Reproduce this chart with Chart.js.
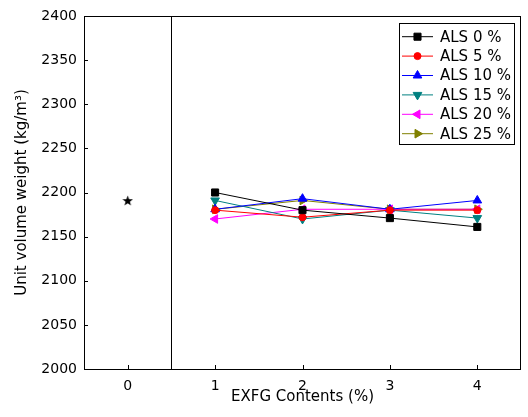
<!DOCTYPE html>
<html>
<head>
<meta charset="utf-8">
<script src="https://cdn.jsdelivr.net/npm/chart.js@4"></script>
<style>
  html, body { margin: 0; padding: 0; background: #fff; }
  #wrap { width: 528px; height: 417px; }
</style>
</head>
<body>
<div id="wrap"><canvas id="weightChart" width="528" height="417"></canvas></div>
<script>
// EXFG contents (%) on the x axis
const exfg = [1, 2, 3, 4];
const xTicks = [0, 1, 2, 3, 4];
const yTicks = [2000, 2050, 2100, 2150, 2200, 2250, 2300, 2350, 2400];

// reference mix (0 %), drawn as a star
const plainX = 0;
const plainWeight = 2191;

// unit volume weight per ALS replacement level
const labels = ['ALS 0 %', 'ALS 5 %', 'ALS 10 %', 'ALS 15 %', 'ALS 20 %', 'ALS 25 %'];
const als0 = [2200, 2180, 2171, 2161];
const als5 = [2180, 2172, 2180, 2180];
const als10 = [2181, 2193, 2181, 2191];
const als15 = [2191, 2170, 2180, 2171];
const als20 = [2170, 2181, 2181, 2181];
const als25 = [2181, 2191, 2181, 2181];

const dividerX = 0.5;

const colors = ['#000000', '#ff0000', '#0000ff', '#008080', '#ff00ff', '#808000'];
const markers = ['rect', 'circle', 'triangle', 'triangle', 'triangle', 'triangle'];
const rotations = [0, 0, 0, 180, 270, 90];
const radii = [5, 3.5, 5, 5, 5, 5];

function makeStar(size) {
    const c = document.createElement('canvas');
    c.width = size; c.height = size;
    const g = c.getContext('2d');
    const cx = size / 2, cy = size / 2 + 0.5, ro = size / 2, ri = ro * 0.42;
    g.beginPath();
    for (let i = 0; i < 10; i++) {
        const r = i % 2 ? ri : ro;
        const a = -Math.PI / 2 + i * Math.PI / 5;
        g.lineTo(cx + r * Math.cos(a), cy + r * Math.sin(a));
    }
    g.closePath();
    g.fillStyle = '#000';
    g.fill();
    return c;
}

const series = [als0, als5, als10, als15, als20, als25];
const datasets = series.map((vals, i) => ({
    label: labels[i],
    data: vals.map((v, j) => ({x: exfg[j], y: v})),
    borderColor: colors[i],
    backgroundColor: colors[i],
    borderWidth: 1,
    pointStyle: markers[i],
    rotation: rotations[i],
    pointRadius: radii[i],
    pointBorderWidth: 1,
    tension: 0
}));
datasets.push({
    label: 'plain',
    data: [{x: plainX, y: plainWeight}],
    showLine: false,
    pointStyle: makeStar(11),
    pointRadius: 6
});

const framePlugin = {
    id: 'frame',
    afterDraw(chart) {
        const ctx = chart.ctx;
        const a = chart.chartArea;
        const xs = chart.scales.x, ys = chart.scales.y;
        ctx.save();
        ctx.strokeStyle = '#000';
        ctx.lineWidth = 1;
        ctx.strokeRect(Math.round(a.left) + 0.5, Math.round(a.top) + 0.5,
            Math.round(a.right - a.left) - 1, Math.round(a.bottom - a.top));
        // divider
        const dx = Math.round(xs.getPixelForValue(dividerX)) + 0.5;
        ctx.beginPath();
        ctx.moveTo(dx, a.top); ctx.lineTo(dx, a.bottom);
        // inward ticks
        yTicks.forEach(v => {
            const py = Math.round(ys.getPixelForValue(v)) + 0.5;
            ctx.moveTo(a.left, py); ctx.lineTo(a.left + 4, py);
        });
        xTicks.forEach(v => {
            const px = Math.round(xs.getPixelForValue(v)) + 0.5;
            ctx.moveTo(px, a.bottom); ctx.lineTo(px, a.bottom - 4);
        });
        ctx.stroke();

        // legend box
        const w = 115, rowH = 19.4;
        const lx = a.right - 7 - w, ly = a.top + 7;
        const h = rowH * labels.length + 5;
        ctx.fillStyle = '#fff';
        ctx.fillRect(lx, ly, w, h);
        ctx.strokeRect(Math.round(lx) + 0.5, Math.round(ly) + 0.5, w, Math.round(h));
        ctx.font = '15px "DejaVu Sans"';
        ctx.textBaseline = 'middle';
        labels.forEach((lab, i) => {
            const y = ly + 4 + rowH * (i + 0.5);
            ctx.strokeStyle = colors[i];
            ctx.beginPath();
            ctx.moveTo(lx + 3, y); ctx.lineTo(lx + 34, y);
            ctx.stroke();
            ctx.fillStyle = colors[i];
            Chart.helpers.drawPoint(ctx, {
                pointStyle: markers[i], rotation: rotations[i],
                radius: radii[i], borderWidth: 1
            }, lx + 18.5, y);
            ctx.fillStyle = '#000';
            ctx.fillText(lab, lx + 41, y + 1);
        });
        ctx.restore();
    }
};

const ctx = document.getElementById('weightChart').getContext('2d');
const weightChart = new Chart(ctx, {
    type: 'line',
    data: { datasets: datasets },
    options: {
        responsive: false,
        animation: false,
        layout: { padding: { left: 0, right: 4, top: 16, bottom: 0 } },
        plugins: { legend: { display: false }, tooltip: { enabled: false } },
        scales: {
            x: {
                type: 'linear',
                min: -0.5,
                max: 4.5,
                afterBuildTicks: axis => { axis.ticks = xTicks.map(v => ({value: v})); },
                afterFit: axis => { axis.height = 48; },
                grid: { display: false, drawTicks: false },
                border: { display: false },
                ticks: { color: '#000', padding: 9, font: { family: 'DejaVu Sans', size: 14 },
                         callback: v => String(v) },
                title: {
                    display: true,
                    text: 'EXFG Contents (%)',
                    color: '#000',
                    font: { family: 'DejaVu Sans', size: 15 },
                    padding: { top: 0, bottom: 11 }
                }
            },
            y: {
                min: 2000,
                max: 2400,
                afterBuildTicks: axis => { axis.ticks = yTicks.map(v => ({value: v})); },
                afterFit: axis => { axis.width = 84; },
                grid: { display: false, drawTicks: false },
                border: { display: false },
                ticks: { color: '#000', padding: 7, font: { family: 'DejaVu Sans', size: 14 },
                         callback: v => String(v) },
                title: {
                    display: true,
                    text: 'Unit volume weight (kg/m³)',
                    color: '#000',
                    font: { family: 'DejaVu Sans', size: 15 },
                    padding: { top: 13, bottom: 0 }
                }
            }
        }
    },
    plugins: [framePlugin]
});
</script>
</body>
</html>
